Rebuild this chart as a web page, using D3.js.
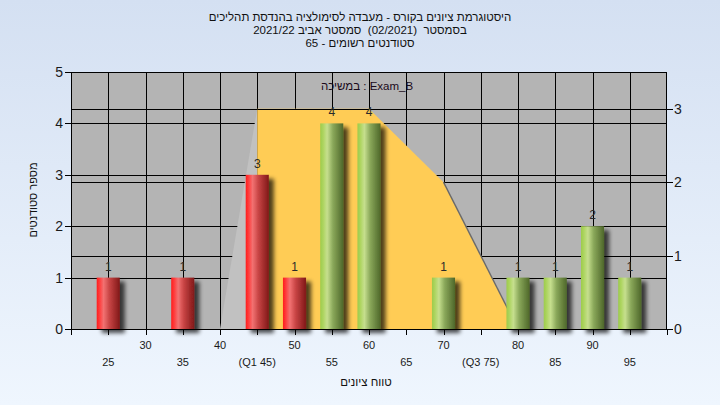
<!DOCTYPE html>
<html><head><meta charset="utf-8">
<script src="https://cdn.jsdelivr.net/npm/d3@7/dist/d3.min.js"></script>
<style>html,body{margin:0;padding:0;overflow:hidden;}svg{display:block;}</style>
</head><body>
<script>
// ---- data ----
const titleLines = ["היסטוגרמת ציונים בקורס - מעבדה לסימולציה בהנדסת תהליכים",
                    "בסמסטר  (02/2021)  סמסטר אביב 2021/22",
                    "סטודנטים רשומים - 65"];
const seriesLabel = "במשיכה : Exam_B";
const yTitle = "מספר סטודנטים";
const xTitle = "טווח ציונים";
const categories = [25, 35, 45, 50, 55, 60, 70, 80, 85, 90, 95];
const counts     = [1, 1, 3, 1, 4, 4, 1, 1, 1, 2, 1];
const passMark = 55;
const areaX = [40, 45, 60, 70, 80];
const areaY = [0, 3, 3, 2, 0];
const q1 = 45;
const xTicksTop = [30, 40, 50, 60, 70, 80, 90];
const xTicksBottom = [25, 35, 45, 55, 65, 75, 85, 95];
const xTicksBottomLabels = ["25", "35", "(Q1 45)", "55", "65", "(Q3 75)", "85", "95"];
const yLeftTicks = [0, 1, 2, 3, 4, 5];
const yRightTicks = [0, 1, 2, 3];

// ---- layout ----
const W = 720, H = 405;
const L = 71, R = 667, T = 72, B = 329;
const font = "'Liberation Sans', 'DejaVu Sans', Arial, sans-serif";

const svg = d3.select("body").append("svg").attr("width", W).attr("height", H)
  .style("font-family", font);
const defs = svg.append("defs");

const bg = defs.append("linearGradient").attr("id", "bg").attr("x1", 0).attr("y1", 0).attr("x2", 0).attr("y2", 1);
bg.append("stop").attr("offset", "0%").attr("stop-color", "#d4e0f2");
bg.append("stop").attr("offset", "100%").attr("stop-color", "#eff6fe");

function cyl(id, stops) {
  const g = defs.append("linearGradient").attr("id", id).attr("x1", 0).attr("y1", 0).attr("x2", 1).attr("y2", 0);
  stops.forEach(s => g.append("stop").attr("offset", s[0]).attr("stop-color", s[1]));
}
cyl("red", [["0%", "#ff1c1c"], ["12%", "#ff3a3a"], ["30%", "#f27272"], ["55%", "#c84444"], ["100%", "#801818"]]);
cyl("green", [["0%", "#9ccb4c"], ["12%", "#acd45e"], ["30%", "#c6df8e"], ["55%", "#8aa85a"], ["100%", "#4e672a"]]);

const sh = defs.append("filter").attr("id", "shadow").attr("x", "-30%").attr("y", "-10%").attr("width", "180%").attr("height", "130%");
sh.append("feGaussianBlur").attr("in", "SourceAlpha").attr("stdDeviation", 2).attr("result", "b");
sh.append("feOffset").attr("in", "b").attr("dx", 5).attr("dy", 4).attr("result", "o");
sh.append("feComponentTransfer").attr("in", "o").attr("result", "o2")
  .append("feFuncA").attr("type", "linear").attr("slope", 0.7);
const mg = sh.append("feMerge");
mg.append("feMergeNode").attr("in", "o2");
mg.append("feMergeNode").attr("in", "SourceGraphic");

svg.append("rect").attr("width", W).attr("height", H).attr("fill", "url(#bg)");

// scales
const x = d3.scaleLinear().domain([20, 100]).range([L, R]);
const yL = d3.scaleLinear().domain([0, 5]).range([B, T]);
const yR = d3.scaleLinear().domain([0, 3.5]).range([B, T]);
const snap = v => Math.round(v) + 0.5;

// plot background
svg.append("rect").attr("x", L).attr("y", T).attr("width", R - L).attr("height", B - T).attr("fill", "#b4b4b4");

// gridlines
const grid = svg.append("g").attr("stroke", "#000").attr("stroke-width", 1);
d3.range(25, 100, 5).forEach(v => grid.append("line").attr("x1", snap(x(v))).attr("x2", snap(x(v))).attr("y1", T).attr("y2", B));
yLeftTicks.filter(v => v > 0 && v < 5).forEach(v => grid.append("line").attr("x1", L).attr("x2", R).attr("y1", snap(yL(v))).attr("y2", snap(yL(v))));
yRightTicks.filter(v => v > 0).forEach(v => grid.append("line").attr("x1", L).attr("x2", R).attr("y1", snap(yR(v))).attr("y2", snap(yR(v))));

// area (light gray wedge left of Q1, yellow from Q1)
const pts = areaX.map((v, i) => [v, areaY[i]]);
const qi = areaX.indexOf(q1);
const wedge = pts.slice(0, qi + 1).concat([[q1, 0]]);
const main = [[q1, 0]].concat(pts.slice(qi));
const line = d3.line().x(d => x(d[0])).y(d => yR(d[1]));
svg.append("path").attr("d", line(wedge) + "Z").attr("fill", "#c1c1c1");
svg.append("path").attr("d", line(main) + "Z").attr("fill", "#ffcc55");
svg.append("path").attr("d", line(pts.slice(pts.length - 2))).attr("fill", "none").attr("stroke", "#6a6a6a").attr("stroke-width", 1.4);
// top gridline over area edge
svg.append("line").attr("x1", x(q1)).attr("x2", x(areaX[qi + 1])).attr("y1", snap(yR(3))).attr("y2", snap(yR(3))).attr("stroke", "#000");

// frame
svg.append("rect").attr("x", L + 0.5).attr("y", T + 0.5).attr("width", R - L - 1).attr("height", B - T).attr("fill", "none").attr("stroke", "#000");

// bars
const barW = x(23.1) - x(20);
const bars = svg.append("g");
categories.forEach((c, i) => {
  bars.append("rect")
    .attr("x", x(c) - barW / 2).attr("y", yL(counts[i]))
    .attr("width", barW).attr("height", B - yL(counts[i]))
    .attr("fill", c < passMark ? "url(#red)" : "url(#green)")
    .attr("filter", "url(#shadow)");
  bars.append("text").attr("x", x(c)).attr("y", yL(counts[i]) - 7)
    .attr("text-anchor", "middle").attr("font-size", 12).attr("fill", "#2a2a2a").text(counts[i]);
});

// axes
const ax = svg.append("g").attr("stroke", "#000");
ax.append("line").attr("x1", L).attr("x2", R).attr("y1", B + 0.5).attr("y2", B + 0.5);
d3.range(20, 101, 5).forEach(v => ax.append("line").attr("x1", snap(x(v))).attr("x2", snap(x(v))).attr("y1", B).attr("y2", B + 6));
yLeftTicks.forEach(v => ax.append("line").attr("x1", L - 6).attr("x2", L).attr("y1", snap(yL(v))).attr("y2", snap(yL(v))));
yRightTicks.forEach(v => ax.append("line").attr("x1", R).attr("x2", R + 6).attr("y1", snap(yR(v))).attr("y2", snap(yR(v))));

const tx = svg.append("g").attr("fill", "#1a1a1a");
yLeftTicks.forEach(v => tx.append("text").attr("x", L - 8).attr("y", yL(v) + 5).attr("text-anchor", "end").attr("font-size", 14).text(v));
yRightTicks.forEach(v => tx.append("text").attr("x", R + 7).attr("y", yR(v) + 5).attr("text-anchor", "start").attr("font-size", 14).text(v));
xTicksTop.forEach(v => tx.append("text").attr("x", x(v)).attr("y", 349).attr("text-anchor", "middle").attr("font-size", 11).text(v));
xTicksBottom.forEach((v, i) => tx.append("text").attr("x", x(v)).attr("y", 366).attr("text-anchor", "middle").attr("font-size", 11).text(xTicksBottomLabels[i]));

// titles
titleLines.forEach((t, i) => svg.append("text").attr("x", 360).attr("y", 21 + i * 13)
  .attr("text-anchor", "middle").attr("direction", "rtl").style("unicode-bidi", "embed")
  .style("white-space", "pre").attr("xml:space", "preserve")
  .attr("font-size", 11.5).attr("fill", "#111").text(t));
svg.append("text").attr("x", 367).attr("y", 90).attr("text-anchor", "middle")
  .attr("font-size", 11.5).attr("fill", "#1a0a1a").text(seriesLabel);
svg.append("text").attr("transform", "translate(37,200) rotate(-90)").attr("text-anchor", "middle")
  .attr("font-size", 11).attr("fill", "#111").text(yTitle);
svg.append("text").attr("x", 366).attr("y", 386).attr("text-anchor", "middle")
  .attr("font-size", 11.5).attr("fill", "#111").text(xTitle);
</script>
</body></html>
